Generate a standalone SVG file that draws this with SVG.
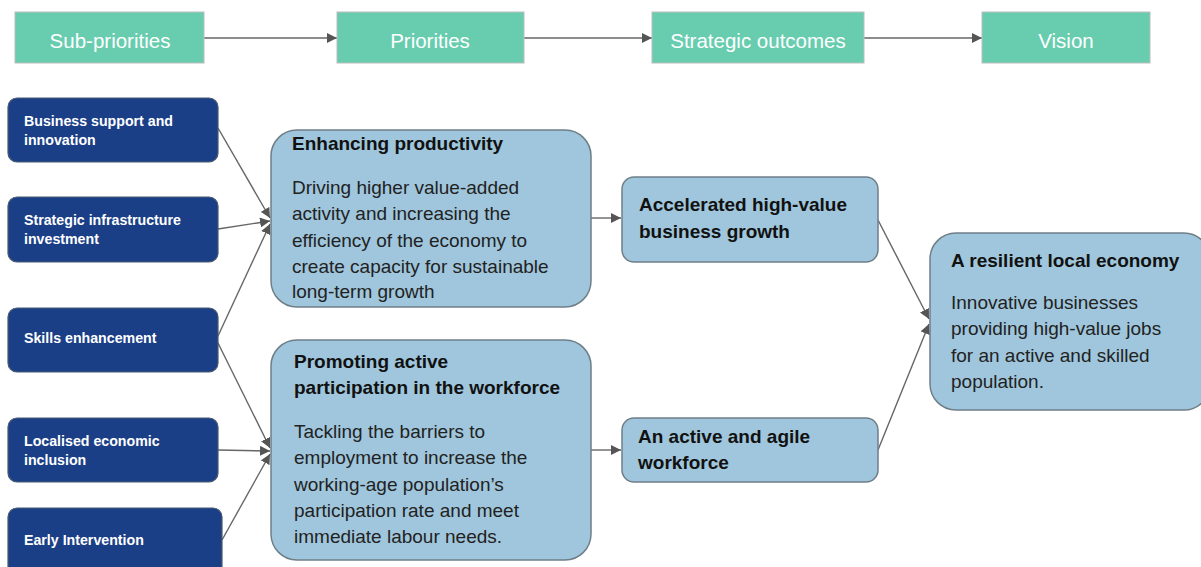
<svg xmlns="http://www.w3.org/2000/svg" width="1201" height="567" viewBox="0 0 1201 567">
<style>
.hdr{fill:#67cdae;stroke:#bdbdbd;stroke-width:1}
.hdrt{font-family:"Liberation Sans",Arial,sans-serif;font-size:20.5px;fill:#ffffff;text-anchor:middle}
.sub{fill:#1b3f87;stroke:#4a5a70;stroke-width:1.2}
.subt{font-family:"Liberation Sans",Arial,sans-serif;font-size:14.2px;font-weight:bold;fill:#ffffff}
.lb{fill:#9fc6dc;stroke:#6f7f88;stroke-width:1.5}
.tt{font-family:"Liberation Sans",Arial,sans-serif;font-size:19px;font-weight:bold;fill:#111}
.bt{font-family:"Liberation Sans",Arial,sans-serif;font-size:19px;fill:#222}
.c{stroke:#666;stroke-width:1.4;fill:none;marker-end:url(#ah)}
</style>
<defs>
<marker id="ah" viewBox="0 0 10 10" refX="10" refY="5" markerWidth="10" markerHeight="10" markerUnits="userSpaceOnUse" orient="auto">
<path d="M0,0 L10,5 L0,10 z" fill="#555"/>
</marker>
</defs>
<rect width="1201" height="567" fill="#ffffff"/>
<g id="connectors">
<line class="c" x1="204" y1="38" x2="337" y2="38"/>
<line class="c" x1="524" y1="38" x2="652" y2="38"/>
<line class="c" x1="864" y1="38" x2="982" y2="38"/>
<line class="c" x1="218" y1="128" x2="270" y2="218"/>
<line class="c" x1="218" y1="229" x2="270" y2="221"/>
<line class="c" x1="218" y1="336" x2="270" y2="224"/>
<line class="c" x1="218" y1="343" x2="270" y2="448"/>
<line class="c" x1="218" y1="450" x2="270" y2="451"/>
<line class="c" x1="222" y1="540" x2="270" y2="454"/>
<line class="c" x1="591" y1="218" x2="621" y2="218"/>
<line class="c" x1="591" y1="450" x2="621" y2="450"/>
<line class="c" x1="878" y1="220" x2="929" y2="319"/>
<line class="c" x1="878" y1="450" x2="929" y2="324"/>
</g>
<g id="h-sub"><rect class="hdr" x="15" y="12" width="189" height="51"/><text class="hdrt" x="110" y="48">Sub-priorities</text></g>
<g id="h-pri"><rect class="hdr" x="337" y="12" width="187" height="51"/><text class="hdrt" x="430" y="48">Priorities</text></g>
<g id="h-out"><rect class="hdr" x="652" y="12" width="212" height="51"/><text class="hdrt" x="758" y="48">Strategic outcomes</text></g>
<g id="h-vis"><rect class="hdr" x="982" y="12" width="168" height="51"/><text class="hdrt" x="1066" y="48">Vision</text></g>
<g id="s1"><rect class="sub" x="8" y="98" width="210" height="64" rx="9"/><text class="subt" x="24" y="126">Business support and</text><text class="subt" x="24" y="145">innovation</text></g>
<g id="s2"><rect class="sub" x="8" y="197" width="210" height="65" rx="9"/><text class="subt" x="24" y="225">Strategic infrastructure</text><text class="subt" x="24" y="244">investment</text></g>
<g id="s3"><rect class="sub" x="8" y="308" width="210" height="64" rx="9"/><text class="subt" x="24" y="343">Skills enhancement</text></g>
<g id="s4"><rect class="sub" x="8" y="418" width="210" height="64" rx="9"/><text class="subt" x="24" y="446">Localised economic</text><text class="subt" x="24" y="465">inclusion</text></g>
<g id="s5"><rect class="sub" x="8" y="508" width="214" height="70" rx="9"/><text class="subt" x="24" y="545">Early Intervention</text></g>
<g id="p1"><rect class="lb" x="271" y="130" width="320" height="177" rx="26"/>
<text class="tt" x="292" y="150">Enhancing productivity</text>
<text class="bt" x="292" y="194">Driving higher value-added</text>
<text class="bt" x="292" y="220">activity and increasing the</text>
<text class="bt" x="292" y="247">efficiency of the economy to</text>
<text class="bt" x="292" y="273">create capacity for sustainable</text>
<text class="bt" x="292" y="298">long-term growth</text></g>
<g id="p2"><rect class="lb" x="271" y="340" width="320" height="220" rx="26"/>
<text class="tt" x="294" y="368">Promoting active</text>
<text class="tt" x="294" y="394">participation in the workforce</text>
<text class="bt" x="294" y="438">Tackling the barriers to</text>
<text class="bt" x="294" y="464">employment to increase the</text>
<text class="bt" x="294" y="491">working-age population’s</text>
<text class="bt" x="294" y="517">participation rate and meet</text>
<text class="bt" x="294" y="543">immediate labour needs.</text></g>
<g id="o1"><rect class="lb" x="622" y="177" width="256" height="85" rx="12"/>
<text class="tt" x="639" y="211">Accelerated high-value</text>
<text class="tt" x="639" y="238">business growth</text></g>
<g id="o2"><rect class="lb" x="622" y="418" width="256" height="64" rx="12"/>
<text class="tt" x="638" y="443">An active and agile</text>
<text class="tt" x="638" y="469">workforce</text></g>
<g id="v"><rect class="lb" x="930" y="233" width="280" height="177" rx="26"/>
<text class="tt" x="951" y="267">A resilient local economy</text>
<text class="bt" x="951" y="309">Innovative businesses</text>
<text class="bt" x="951" y="335">providing high-value jobs</text>
<text class="bt" x="951" y="362">for an active and skilled</text>
<text class="bt" x="951" y="388">population.</text></g>
</svg>
